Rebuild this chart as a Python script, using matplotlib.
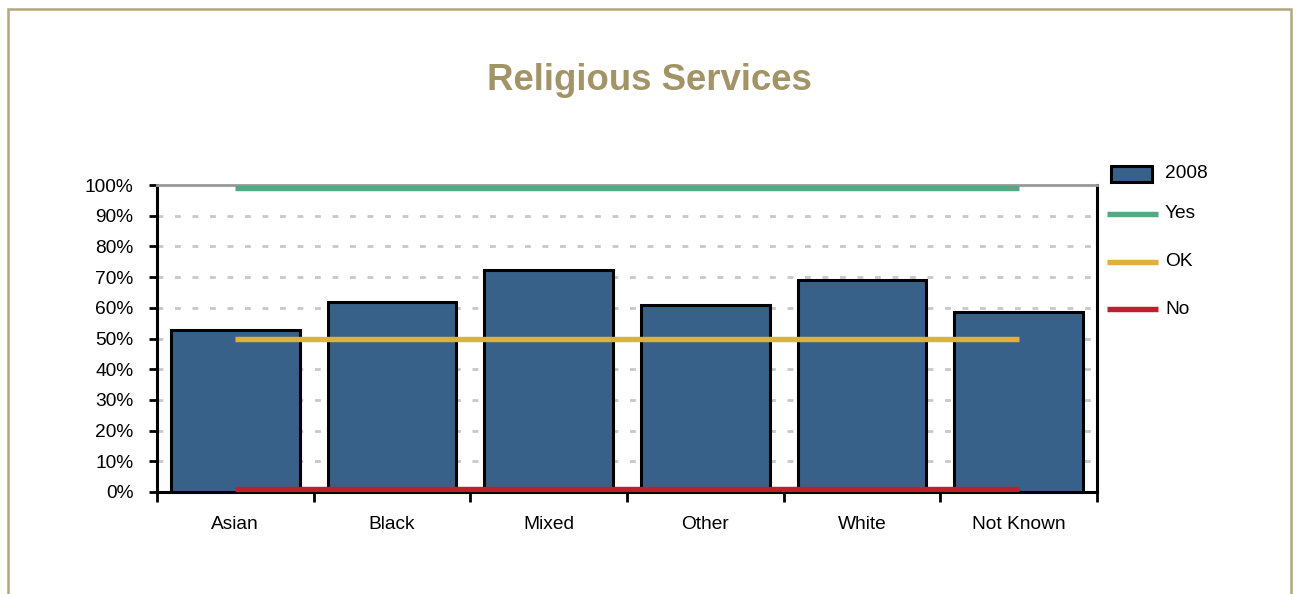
import matplotlib
matplotlib.use("Agg")
import matplotlib.pyplot as plt
from matplotlib.patches import Rectangle
from matplotlib.lines import Line2D
import numpy as np

plt.rcParams['font.family'] = ['Liberation Sans', 'DejaVu Sans']

categories = ["Asian", "Black", "Mixed", "Other", "White", "Not Known"]
values_2008 = [52.8, 62.0, 72.3, 61.0, 69.0, 58.5]
yes_level = 99
ok_level = 50
no_level = 1
yticks = [0, 10, 20, 30, 40, 50, 60, 70, 80, 90, 100]
ytick_labels = [f"{t}%" for t in yticks]

W, H = 1298, 594
fig = plt.figure(figsize=(W / 100, H / 100), dpi=100)
fig.patch.set_facecolor("white")

def fx(px):
    return px / W

def fy(py):
    return 1 - py / H

FS = 13.8

# outer frame
fig.add_artist(Rectangle((fx(7.5), fy(620)), fx(1291) - fx(7.5), fy(8.5) - fy(620),
                         transform=fig.transFigure, fill=False, edgecolor="#b2a77f",
                         linewidth=1.8, clip_on=False))

ax = fig.add_axes([fx(157), fy(492), fx(1097) - fx(157), fy(185) - fy(492)])
x = np.arange(len(categories))
ax.bar(x, values_2008, width=0.82, color="#386189", edgecolor="black", linewidth=2.2, zorder=3)

ax.set_xlim(-0.5, len(categories) - 0.5)
ax.set_ylim(0, 100)

# reference lines from first to last category center
for lvl, col in [(yes_level, "#55a882"), (ok_level, "#e0b03a"), (no_level, "#be1e2d")]:
    ax.plot([x[0], x[-1]], [lvl, lvl], color=col, lw=3.9, zorder=4, solid_capstyle="butt")

# grid
for t in yticks[1:-1]:
    ax.axhline(t, color="#c8c8c8", lw=2, dashes=(2.1, 4.2), zorder=1)

ax.set_yticks(yticks)
ax.set_yticklabels(ytick_labels, fontsize=FS)
ax.set_xticks(np.arange(-0.5, len(categories), 1.0))
ax.set_xticklabels([])
ax.set_xticks(x, minor=True)
ax.set_xticklabels(categories, minor=True, fontsize=FS)
ax.tick_params(axis="x", which="minor", length=0, pad=17)
ax.tick_params(axis="x", which="major", length=7, width=2, direction="out", color="black")
ax.tick_params(axis="y", length=6, width=2, direction="out", color="black", pad=11)

for side in ["left", "bottom", "right"]:
    ax.spines[side].set_color("black")
    ax.spines[side].set_linewidth(2.2)
ax.spines["top"].set_color("#999999")
ax.spines["top"].set_linewidth(2)

fig.text(0.5, fy(81), "Religious Services", ha="center", va="center",
         fontsize=26.4, fontweight="bold", color="#a39467")

# legend
fig.add_artist(Rectangle((fx(1111), fy(182)), fx(1152) - fx(1111), fy(166) - fy(182),
                         transform=fig.transFigure, facecolor="#386189", edgecolor="black", linewidth=2.2))
fig.text(fx(1165), fy(174), "2008", ha="left", va="center", fontsize=FS)
for label, color, py in [("Yes", "#55a882", 214), ("OK", "#e0b03a", 262), ("No", "#be1e2d", 309)]:
    fig.add_artist(Line2D([fx(1107), fx(1158)], [fy(py), fy(py)], transform=fig.transFigure,
                          color=color, lw=3.9, solid_capstyle="butt"))
    fig.text(fx(1165), fy(py), label, ha="left", va="center", fontsize=FS)

fig.savefig("out.png", dpi=100, facecolor="white")
